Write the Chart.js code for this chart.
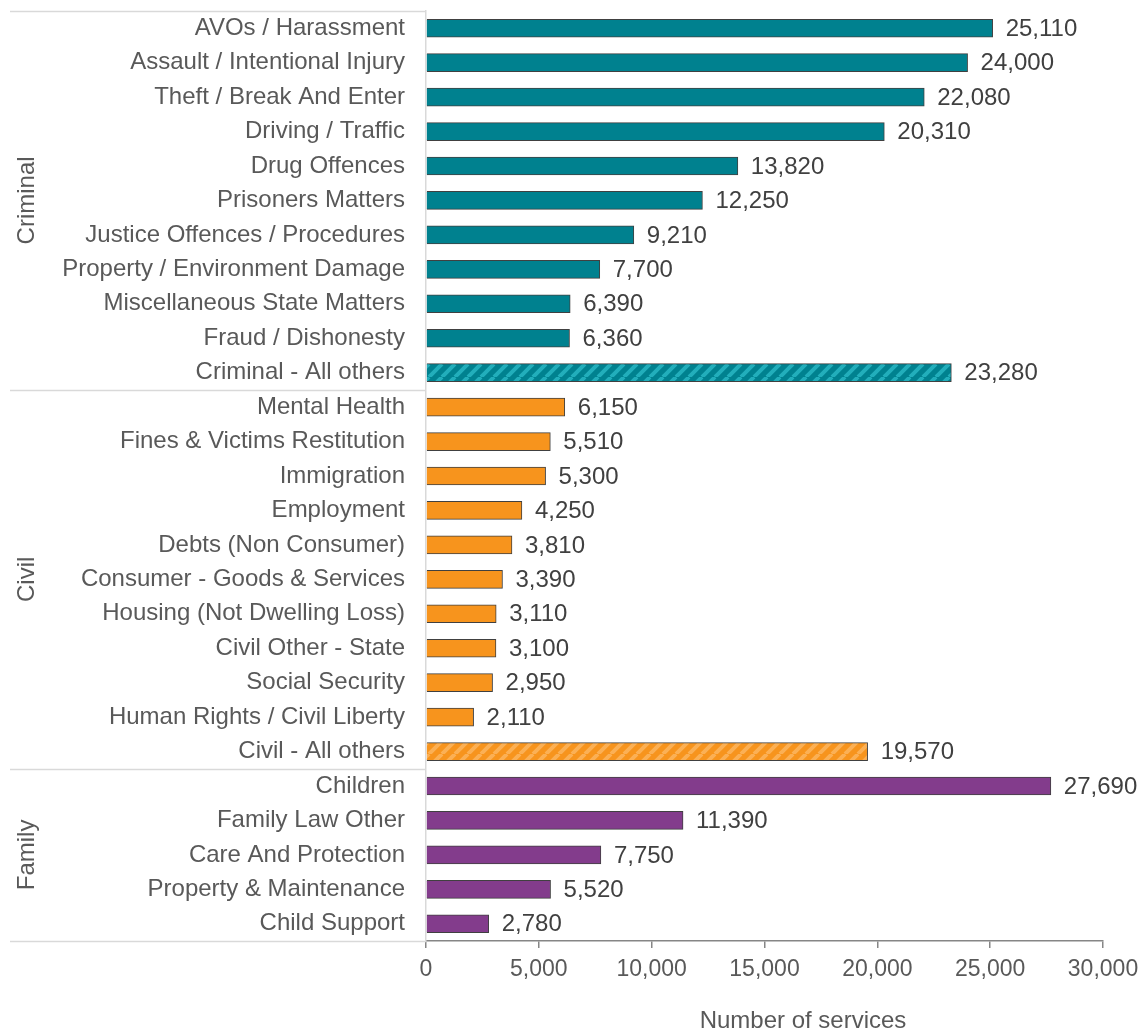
<!DOCTYPE html>
<html>
<head>
<meta charset="utf-8">
<script src="https://cdn.jsdelivr.net/npm/chart.js@4"></script>
<style>
  html, body { margin: 0; padding: 0; background: #fff; }
  #wrap { width: 1145px; height: 1034px; }
</style>
</head>
<body>
<div id="wrap"><canvas id="chart" width="1145" height="1034"></canvas></div>
<script>
// services by problem type, grouped by law area
const categories = [
  'AVOs / Harassment', 'Assault / Intentional Injury', 'Theft / Break And Enter',
  'Driving / Traffic', 'Drug Offences', 'Prisoners Matters',
  'Justice Offences / Procedures', 'Property / Environment Damage',
  'Miscellaneous State Matters', 'Fraud / Dishonesty', 'Criminal - All others',
  'Mental Health', 'Fines & Victims Restitution', 'Immigration', 'Employment',
  'Debts (Non Consumer)', 'Consumer - Goods & Services', 'Housing (Not Dwelling Loss)',
  'Civil Other - State', 'Social Security', 'Human Rights / Civil Liberty',
  'Civil - All others',
  'Children', 'Family Law Other', 'Care And Protection', 'Property & Maintenance',
  'Child Support'
];
const services = [
  25110, 24000, 22080, 20310, 13820, 12250, 9210, 7700, 6390, 6360, 23280,
  6150, 5510, 5300, 4250, 3810, 3390, 3110, 3100, 2950, 2110, 19570,
  27690, 11390, 7750, 5520, 2780
];
const groups = ['Criminal', 'Civil', 'Family'];
const groupSizes = [11, 11, 5];
const otherRows = ['Criminal - All others', 'Civil - All others'];
const xTicks = [0, 5000, 10000, 15000, 20000, 25000, 30000];

const groupColors = { Criminal: '#00818f', Civil: '#f7941d', Family: '#833c8c' };
const stripeColors = { Criminal: '#22aebb', Civil: '#fbb055' };

function hatch(base, stripe) {
  const c = document.createElement('canvas');
  c.width = 13; c.height = 13;
  const g = c.getContext('2d');
  g.fillStyle = base;
  g.fillRect(0, 0, 13, 13);
  g.strokeStyle = stripe;
  g.lineWidth = 4;
  g.beginPath();
  for (let k = -13; k <= 26; k += 13) {
    g.moveTo(k, 13);
    g.lineTo(k + 13, 0);
  }
  g.stroke();
  return g.createPattern(c, 'repeat');
}

const groupOf = [];
groups.forEach((g, i) => { for (let j = 0; j < groupSizes[i]; j++) groupOf.push(g); });
const barColors = categories.map((c, i) => otherRows.includes(c)
  ? hatch(groupColors[groupOf[i]], stripeColors[groupOf[i]])
  : groupColors[groupOf[i]]);

const fmt = v => v.toLocaleString('en-US');
const FONT = "'Liberation Sans', Arial, sans-serif";

// value labels, group separators, rotated group names and axis title
const decorations = {
  id: 'decorations',
  afterDatasetsDraw(chart) {
    const ctx = chart.ctx;
    const meta = chart.getDatasetMeta(0);
    ctx.save();
    ctx.font = '24px ' + FONT;
    ctx.fillStyle = '#404040';
    ctx.textAlign = 'left';
    ctx.textBaseline = 'middle';
    meta.data.forEach((bar, i) => {
      ctx.fillText(fmt(services[i]), bar.x + 13, bar.y + 1);
    });
    ctx.restore();
  },
  afterDraw(chart) {
    const ctx = chart.ctx;
    const area = chart.chartArea;
    const band = (area.bottom - area.top) / categories.length;
    ctx.save();
    ctx.strokeStyle = '#d9d9d9';
    ctx.lineWidth = 1.5;
    let start = 0;
    const edges = [area.top];
    groupSizes.forEach(n => { start += n; edges.push(area.top + start * band); });
    edges.forEach(e => {
      ctx.beginPath();
      ctx.moveTo(10, Math.round(e) + 0.5);
      ctx.lineTo(area.left, Math.round(e) + 0.5);
      ctx.stroke();
    });
    ctx.font = '24px ' + FONT;
    ctx.fillStyle = '#595959';
    ctx.textAlign = 'center';
    ctx.textBaseline = 'middle';
    groups.forEach((g, i) => {
      const mid = (edges[i] + edges[i + 1]) / 2;
      ctx.save();
      ctx.translate(27, mid);
      ctx.rotate(-Math.PI / 2);
      ctx.fillText(g, 0, 0);
      ctx.restore();
    });
    ctx.fillText('Number of services', 803, 1021);
    ctx.restore();
  }
};

new Chart(document.getElementById('chart'), {
  type: 'bar',
  data: {
    labels: categories,
    datasets: [{
      data: services,
      backgroundColor: barColors,
      borderColor: '#404040',
      borderWidth: 1,
      barThickness: 18
    }]
  },
  options: {
    indexAxis: 'y',
    responsive: false,
    animation: false,
    layout: { padding: { top: 11, right: 42, left: 0, bottom: 0 } },
    plugins: { legend: { display: false }, tooltip: { enabled: false } },
    scales: {
      x: {
        min: 0,
        max: 30000,
        afterBuildTicks: s => { s.ticks = xTicks.map(v => ({ value: v })); },
        afterFit: s => { s.height = 93; s.paddingLeft = 0; s.paddingRight = 0; },
        grid: { drawOnChartArea: false, drawTicks: true, tickLength: 7, color: '#868686', lineWidth: 1.5 },
        border: { color: '#868686', width: 1.5 },
        ticks: { font: { family: FONT, size: 23 }, color: '#595959', padding: 8, callback: v => fmt(v) }
      },
      y: {
        afterFit: s => { s.width = 426; s.paddingTop = 0; s.paddingBottom = 0; },
        grid: { display: false },
        border: { color: '#d9d9d9', width: 1.5 },
        ticks: { font: { family: FONT, size: 24 }, color: '#595959', padding: 13, autoSkip: false }
      }
    }
  },
  plugins: [decorations]
});
</script>
</body>
</html>
